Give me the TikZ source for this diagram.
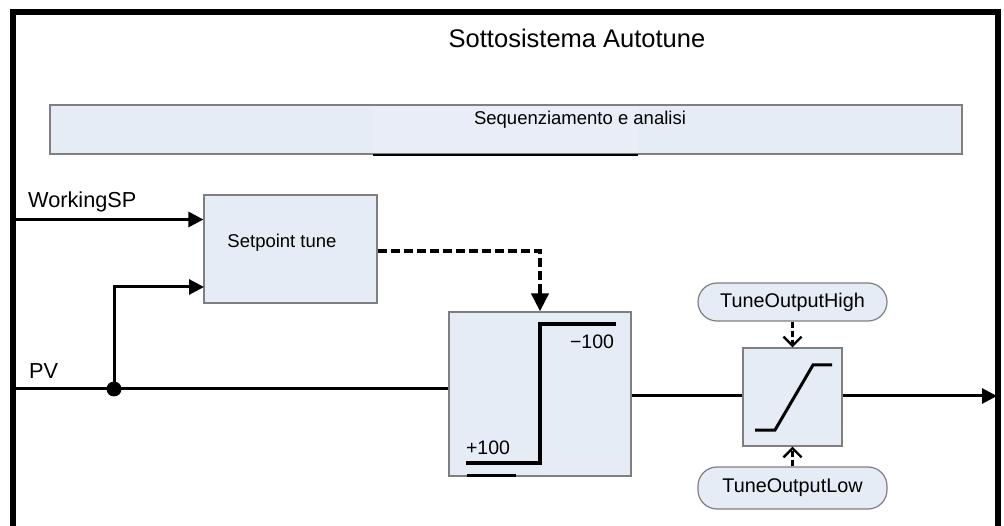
\documentclass[tikz,border=0pt]{standalone}
\usepackage{fontspec}
\setmainfont{Liberation Sans}
\usetikzlibrary{arrows.meta,calc}
\definecolor{boxfill}{HTML}{E6ECF6}
\definecolor{boxfilllight}{HTML}{E8EDF7}
\definecolor{boxline}{HTML}{7F7F7F}
\newcommand{\fs}[1]{\fontsize{#1}{#1}\selectfont}
\tikzset{
  blk/.style={draw=boxline, fill=boxfill, line width=1.2pt, inner sep=0pt, rectangle},
  pill/.style={blk, rounded corners=19pt},
  sig/.style={line width=3pt},
  fatsig/.style={line width=4pt},
  tri/.style={-{Triangle[length=15pt,width=15pt]}},
  dsh/.style={line width=4pt, dash pattern=on 9pt off 4pt},
  ldsh/.style={line width=3.5pt, dash pattern=on 6pt off 3pt},
  barb/.style={-{Straight Barb[length=9pt,width=18pt,line width=2.4pt]}},
  lbl/.style={inner sep=0pt, text=black},
}
\begin{document}
\begin{tikzpicture}[x=1pt,y=-1pt]
\useasboundingbox (0,0) rectangle (1004,526);
\fill[white] (0,0) rectangle (1004,526);

% frame
\draw[line width=6pt, line join=miter] (12.8,530) -- (12.8,12.5) -- (998,12.5) -- (998,530);

% title
\node[lbl, font=\fs{25.5}] (title) at (577,38) {Sottosistema Autotune};

% sequencing box
\node[blk, minimum width=912pt, minimum height=49pt] (seq) at (506,129.5) {};
\fill[boxfilllight] (373,106) rectangle (638,153.4);
\node[lbl, font=\fs{18.5}] (seqtxt) at (580,120) {Sequenziamento e analisi};
\draw[line width=2.2pt] (373,155) -- (638,155);

% setpoint tune box
\node[blk, minimum width=173pt, minimum height=108pt] (spt) at (290.5,249) {};
\node[lbl, font=\fs{18.5}] (spttxt) at (282,243) {Setpoint tune};

% step box
\node[blk, minimum width=182pt, minimum height=164pt] (step) at (540,394) {};
\draw[fatsig] (466,463) -- (540,463) -- (540,324) -- (616,324);
\draw[line width=3pt] (467,475) -- (516,475);
\node[lbl, font=\fs{19.5}] (minus) at (592,342) {−100};
\node[lbl, font=\fs{19.5}] (plus) at (488,448) {+100};

% limiter box
\node[blk, minimum width=99pt, minimum height=98pt] (lim) at (792.5,397) {};
\draw[line width=3pt] (755,430) -- (775,430) -- (813,365) -- (832,365);

% high/low pills
\node[pill, minimum width=189pt, minimum height=38pt, font=\fs{19.8}] (high) at (792.5,302) {TuneOutputHigh};
\node[pill, minimum width=189pt, minimum height=42pt, font=\fs{19.8}] (low) at (792.5,488) {TuneOutputLow};

% input labels
\node[lbl, font=\fs{21.7}, anchor=base west] (wsplbl) at (28,208) {WorkingSP};
\node[lbl, font=\fs{21.7}, anchor=base west] (pvlbl) at (29,379) {PV};

% coordinates
\coordinate (wsp) at (13,219.5);
\coordinate (pvin) at (13,389);
\coordinate (sptin2) at (204,287);
\coordinate (out) at (997,396);
\fill (114,389) circle (7.5pt) node[inner sep=0pt] (dot) {};

% connectors
\draw[sig, tri] (wsp) -- (wsp -| spt.west);
\draw[sig] (pvin) -- (pvin -| step.west);
\draw[sig, tri] (dot.center) |- (sptin2);
\draw[dsh] (spt.east |- 0,251) -| ($(step.north)+(0,-18)$);
\draw[line width=4pt, -{Triangle[length=18pt,width=17pt]}] ($(step.north)+(0,-19)$) -- (step.north);
\draw[sig] (step.east |- 0,396) -- (lim.west |- 0,396);
\draw[sig, tri] (lim.east |- out) -- (out);
\draw[ldsh, barb] (high.south) -- (lim.north);
\draw[ldsh, barb] (low.north) -- (lim.south);
\end{tikzpicture}
\end{document}
